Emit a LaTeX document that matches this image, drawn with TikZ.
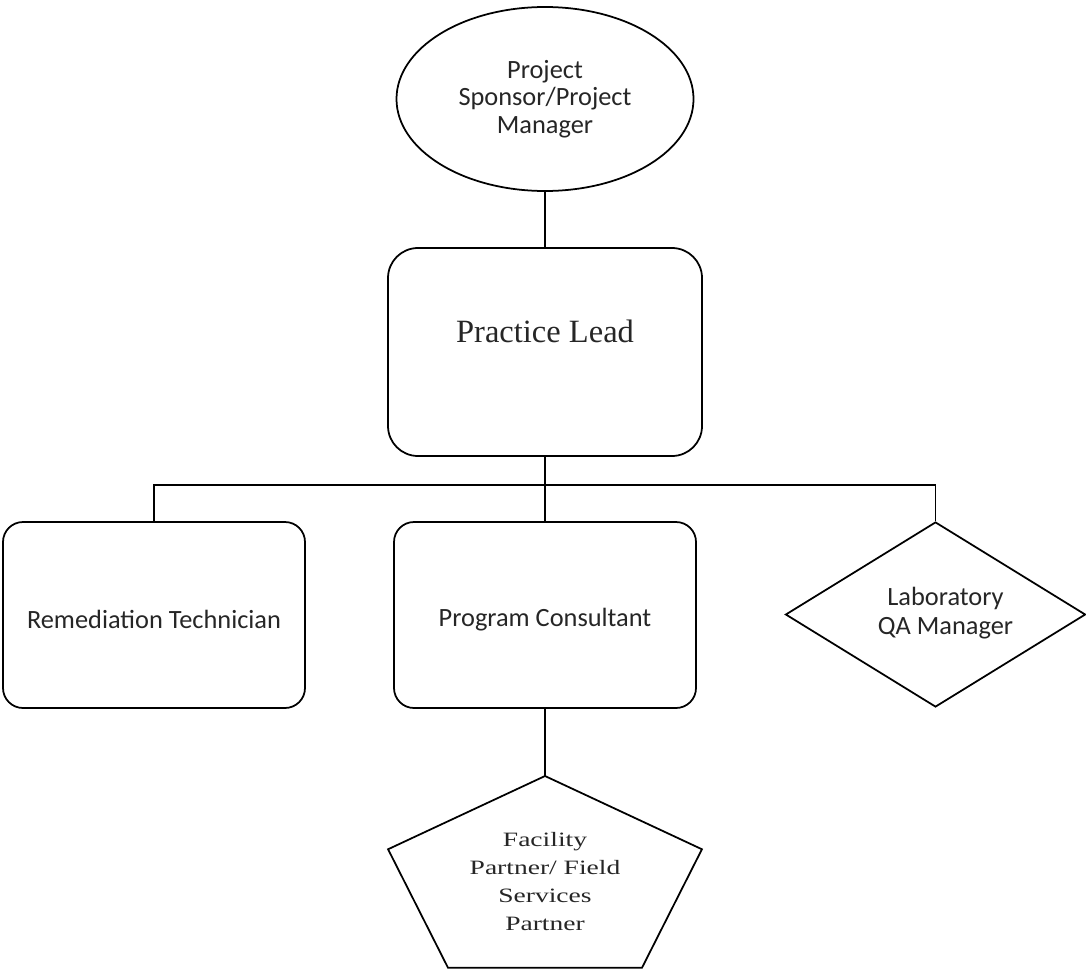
\documentclass[tikz,border=0pt]{standalone}
\usepackage{fontspec}
\setmainfont{Carlito}
\newfontfamily\timesfont{Liberation Serif}
\usetikzlibrary{shapes.geometric}

\tikzset{
	chart/.style={draw, line width=1pt, text=black!85},
	rolebox/.style={chart, rectangle, rounded corners=0.4cm, minimum width=6.04cm, minimum height=3.72cm, text height=0.55cm, font=\fontsize{15}{16}\selectfont},
	conn/.style={line width=1pt}
}

\begin{document}
\begin{tikzpicture}
		\useasboundingbox (0, 0) rectangle (21.72, -19.4);
		% top of the chart
		\node[chart, ellipse, minimum width=5.94cm, minimum height=3.68cm, inner sep=0pt, align=center, font=\fontsize{15}{15.6}\selectfont] (sponsor) at (10.9, -1.98) {Project\\Sponsor/Project\\Manager};
		\node[chart, rectangle, rounded corners=0.6cm, minimum width=6.28cm, minimum height=4.16cm, text depth=0.85cm, font=\timesfont\fontsize{18.5}{20}\selectfont] (lead) at (10.9, -7.04) {Practice Lead};
		% second row
		\node[rolebox] (tech) at (3.08, -12.3) {Remediation Technician};
		\node[rolebox] (consultant) at (10.9, -12.3) {Program Consultant};
		\node[chart, diamond, aspect=1.6, minimum width=6cm, minimum height=3.7cm, inner sep=0pt, font=\fontsize{15}{16.4}\selectfont] (lab) at (18.71, -12.29) {\hspace*{0.2cm}\begin{tabular}{@{}c@{}}Laboratory\\QA Manager\end{tabular}\hspace*{-0.2cm}};
		% pentagon at the bottom
		\node[text=black!85] (partner) at (10.9, -17.66) {\scalebox{1.35}[1]{\timesfont\fontsize{11.6}{15.8}\selectfont\begin{tabular}{@{}c@{}}Facility\\Partner/ Field\\Services\\Partner\end{tabular}}};
		\draw[conn, shift={(10.9, -17.64)}, xscale=3.3, yscale=2.12] (90:1) -- (162:1) -- (234:1) -- (306:1) -- (18:1) -- cycle;
		\coordinate (ptop) at (10.9, -15.52);
		% connectors
		\coordinate (bus) at (10.9, -9.7);
		\draw[conn] (sponsor.south) -- (lead.north);
		\draw[conn] (lead.south) -- (consultant.north);
		\draw[conn] (tech.north) |- (bus) -| (lab.north);
		\draw[conn] (consultant.south) -- (ptop);
	\end{tikzpicture}
\end{document}
